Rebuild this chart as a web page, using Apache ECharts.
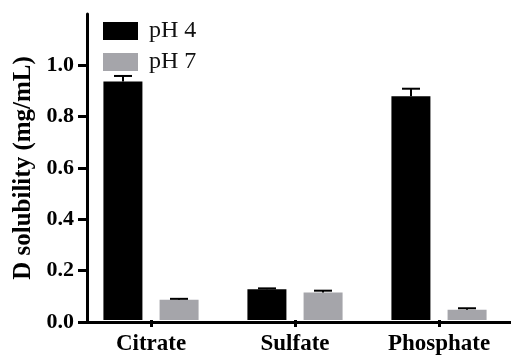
<!DOCTYPE html>
<html>
<head>
<meta charset="utf-8">
<script src="https://cdn.jsdelivr.net/npm/echarts@6/dist/echarts.min.js"></script>
<style>html,body{margin:0;padding:0;background:#fff}#c{width:511px;height:356px}</style>
</head>
<body>
<div id="c"></div>
<script>
var categories = ['Citrate', 'Sulfate', 'Phosphate'];
var seriesNames = ['pH 4', 'pH 7'];
var ph4Values = [0.935, 0.121, 0.877];
var ph4Errors = [0.022, 0.003, 0.030];
var ph7Values = [0.079, 0.108, 0.040];
var ph7Errors = [0.004, 0.007, 0.006];
var yTickValues = [0, 0.2, 0.4, 0.6, 0.8, 1.0];

var serif = '"Liberation Serif", "Times New Roman", serif';
var chart = echarts.init(document.getElementById('c'), null, {renderer: 'canvas'});

function errData(vals, errs) {
  return vals.map(function (v, i) { return [i, v, errs[i]]; });
}
function errRender(offset) {
  return function (params, api) {
    var idx = api.value(0), v = api.value(1), e = api.value(2);
    var p0 = api.coord([idx, v]);
    var p1 = api.coord([idx, v + e]);
    var x = p0[0] + offset;
    var style = {stroke: '#000', lineWidth: 2};
    return {
      type: 'group',
      children: [
        {type: 'line', shape: {x1: x, y1: p0[1], x2: x, y2: p1[1]}, style: style},
        {type: 'line', shape: {x1: x - 9, y1: p1[1], x2: x + 9, y2: p1[1]}, style: style}
      ]
    };
  };
}

chart.setOption({
  animation: false,
  backgroundColor: '#fff',
  legend: {
    orient: 'vertical',
    left: 98, top: 14,
    itemWidth: 35, itemHeight: 18, itemGap: 7,
    icon: 'rect',
    data: seriesNames,
    textStyle: {fontFamily: serif, fontSize: 24, color: '#111', padding: [0, 0, 0, 6]}
  },
  grid: [
    {left: 79, width: 446, top: 14, bottom: 34},
    {left: 87, right: 0, top: 14, bottom: 34}
  ],
  xAxis: [
    {
      type: 'category', gridIndex: 0, data: categories,
      axisLine: {show: false},
      axisTick: {show: true, alignWithLabel: true, length: 7, lineStyle: {color: '#000', width: 3}},
      axisLabel: {fontFamily: serif, fontWeight: 'bold', fontSize: 23, color: '#000', margin: 13}
    },
    {
      type: 'value', gridIndex: 1, min: 0, max: 1,
      axisLine: {show: true, lineStyle: {color: '#000', width: 3}},
      axisTick: {show: false}, axisLabel: {show: false}, splitLine: {show: false}
    }
  ],
  yAxis: [
    {type: 'value', gridIndex: 0, min: 0, max: 1.2, show: false},
    {
      type: 'value', gridIndex: 1, min: 0, max: 1.2,
      name: 'D solubility (mg/mL)', nameLocation: 'middle', nameGap: 50,
      nameTextStyle: {fontFamily: serif, fontWeight: 'bold', fontSize: 25, color: '#000'},
      axisLine: {show: true, lineStyle: {color: '#000', width: 3}},
      axisTick: {show: true, length: 9, customValues: yTickValues, lineStyle: {color: '#000', width: 3}},
      axisLabel: {
        customValues: yTickValues, margin: 13,
        fontFamily: serif, fontWeight: 'bold', fontSize: 22, color: '#000',
        formatter: function (v) { return v.toFixed(1); }
      },
      splitLine: {show: false}
    }
  ],
  series: [
    {name: seriesNames[0], type: 'bar', xAxisIndex: 0, yAxisIndex: 0, data: ph4Values,
     barWidth: 39, barGap: '44%', itemStyle: {color: '#000'}},
    {name: seriesNames[1], type: 'bar', xAxisIndex: 0, yAxisIndex: 0, data: ph7Values,
     barWidth: 39, barGap: '44%', itemStyle: {color: '#a5a5aa'}},
    {type: 'custom', xAxisIndex: 0, yAxisIndex: 0, renderItem: errRender(-28),
     data: errData(ph4Values, ph4Errors), z: 3},
    {type: 'custom', xAxisIndex: 0, yAxisIndex: 0, renderItem: errRender(28),
     data: errData(ph7Values, ph7Errors), z: 3}
  ]
});
</script>
</body>
</html>
